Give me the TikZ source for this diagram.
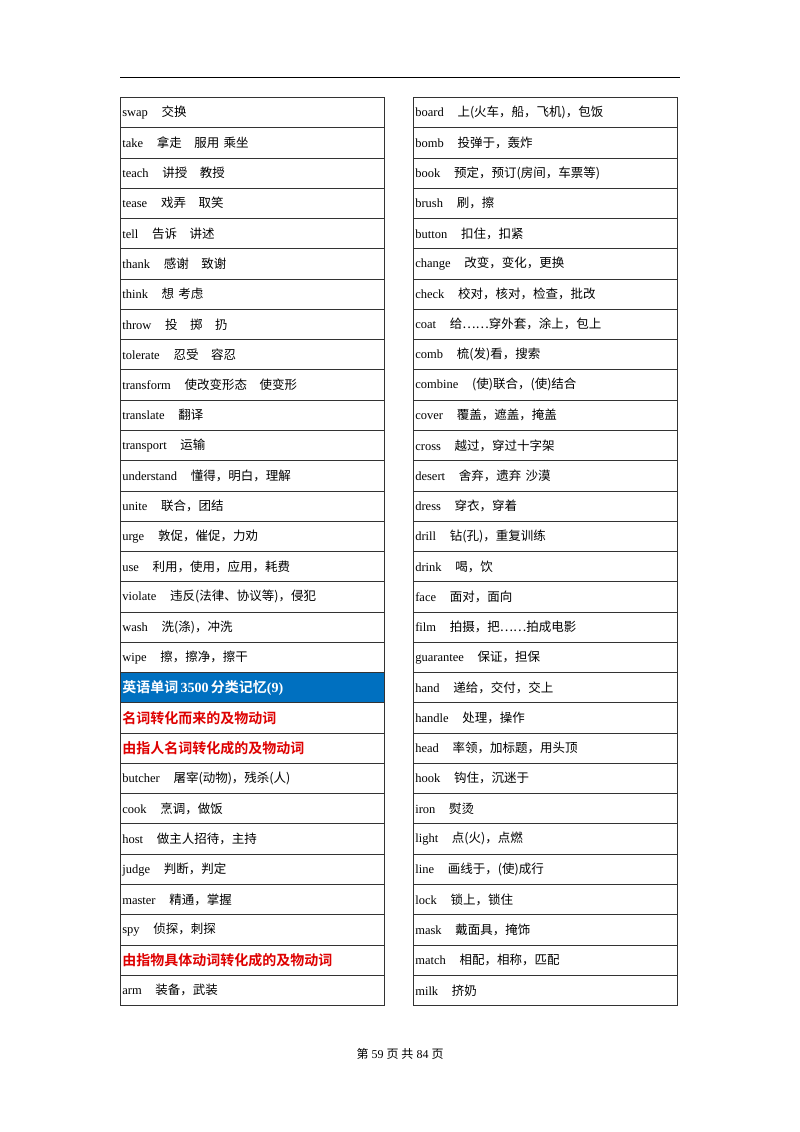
\documentclass[tikz,border=0pt]{standalone}
\usepackage{fontspec}
\setmainfont{Liberation Serif}
\newfontfamily\cjk{Noto Sans CJK SC}[BoldFont=Noto Sans CJK SC Bold]
\definecolor{hdrblue}{RGB}{0,112,192}
\definecolor{hdrred}{RGB}{222,0,0}
\newcommand\rowh{30.27}
\tikzset{
 cell/.style={draw=black!80, line width=0.6pt, anchor=north west, minimum height=\rowh pt,
   text width=260pt, inner xsep=2pt, inner ysep=0pt, align=left, font=\fontsize{12.5}{14}\selectfont},
 bluecell/.style={cell, fill=hdrblue, text=white, font=\fontsize{14}{16}\selectfont\bfseries},
 redcell/.style={cell, text=hdrred, font=\fontsize{14}{16}\selectfont\bfseries\cjk},
}
\newcommand\W[2]{#1\hspace{1.1em}{\cjk #2}}
\begin{document}
\begin{tikzpicture}[x=1pt,y=-1pt]
\useasboundingbox (0,0) rectangle (800,1132);
\draw[line width=0.8pt] (120,77) coordinate (ra) -- (680,77) coordinate (rb);
\newcommand\Lc[3][cell]{\node[#1] (L#2) at (120,{97+(#2-1)*\rowh}) {#3};}
\newcommand\Rc[2]{\node[cell] (R#1) at (413,{97+(#1-1)*\rowh}) {#2};}
\Lc{1}{\W{swap}{交换}}
\Lc{2}{\W{take}{拿走　服用 乘坐}}
\Lc{3}{\W{teach}{讲授　教授}}
\Lc{4}{\W{tease}{戏弄　取笑}}
\Lc{5}{\W{tell}{告诉　讲述}}
\Lc{6}{\W{thank}{感谢　致谢}}
\Lc{7}{\W{think}{想 考虑}}
\Lc{8}{\W{throw}{投　掷　扔}}
\Lc{9}{\W{tolerate}{忍受　容忍}}
\Lc{10}{\W{transform}{使改变形态　使变形}}
\Lc{11}{\W{translate}{翻译}}
\Lc{12}{\W{transport}{运输}}
\Lc{13}{\W{understand}{懂得，明白，理解}}
\Lc{14}{\W{unite}{联合，团结}}
\Lc{15}{\W{urge}{敦促，催促，力劝}}
\Lc{16}{\W{use}{利用，使用，应用，耗费}}
\Lc{17}{\W{violate}{违反(法律、协议等)，侵犯}}
\Lc{18}{\W{wash}{洗(涤)，冲洗}}
\Lc{19}{\W{wipe}{擦，擦净，擦干}}
\Lc[bluecell]{20}{{\cjk 英语单词}\,3500\,{\cjk 分类记忆}(9)}
\Lc[redcell]{21}{名词转化而来的及物动词}
\Lc[redcell]{22}{由指人名词转化成的及物动词}
\Lc{23}{\W{butcher}{屠宰(动物)，残杀(人)}}
\Lc{24}{\W{cook}{烹调，做饭}}
\Lc{25}{\W{host}{做主人招待，主持}}
\Lc{26}{\W{judge}{判断，判定}}
\Lc{27}{\W{master}{精通，掌握}}
\Lc{28}{\W{spy}{侦探，刺探}}
\Lc[redcell]{29}{由指物具体动词转化成的及物动词}
\Lc{30}{\W{arm}{装备，武装}}
\Rc{1}{\W{board}{上(火车，船，飞机)，包饭}}
\Rc{2}{\W{bomb}{投弹于，轰炸}}
\Rc{3}{\W{book}{预定，预订(房间，车票等)}}
\Rc{4}{\W{brush}{刷，擦}}
\Rc{5}{\W{button}{扣住，扣紧}}
\Rc{6}{\W{change}{改变，变化，更换}}
\Rc{7}{\W{check}{校对，核对，检查，批改}}
\Rc{8}{\W{coat}{给……穿外套，涂上，包上}}
\Rc{9}{\W{comb}{梳(发)看，搜索}}
\Rc{10}{\W{combine}{(使)联合，(使)结合}}
\Rc{11}{\W{cover}{覆盖，遮盖，掩盖}}
\Rc{12}{\W{cross}{越过，穿过十字架}}
\Rc{13}{\W{desert}{舍弃，遗弃 沙漠}}
\Rc{14}{\W{dress}{穿衣，穿着}}
\Rc{15}{\W{drill}{钻(孔)，重复训练}}
\Rc{16}{\W{drink}{喝，饮}}
\Rc{17}{\W{face}{面对，面向}}
\Rc{18}{\W{film}{拍摄，把……拍成电影}}
\Rc{19}{\W{guarantee}{保证，担保}}
\Rc{20}{\W{hand}{递给，交付，交上}}
\Rc{21}{\W{handle}{处理，操作}}
\Rc{22}{\W{head}{率领，加标题，用头顶}}
\Rc{23}{\W{hook}{钩住，沉迷于}}
\Rc{24}{\W{iron}{熨烫}}
\Rc{25}{\W{light}{点(火)，点燃}}
\Rc{26}{\W{line}{画线于，(使)成行}}
\Rc{27}{\W{lock}{锁上，锁住}}
\Rc{28}{\W{mask}{戴面具，掩饰}}
\Rc{29}{\W{match}{相配，相称，匹配}}
\Rc{30}{\W{milk}{挤奶}}
\node[font=\fontsize{12}{14}\selectfont] (foot) at (400,1054) {{\cjk 第} 59 {\cjk 页} {\cjk 共} 84 {\cjk 页}};
\end{tikzpicture}
\end{document}
